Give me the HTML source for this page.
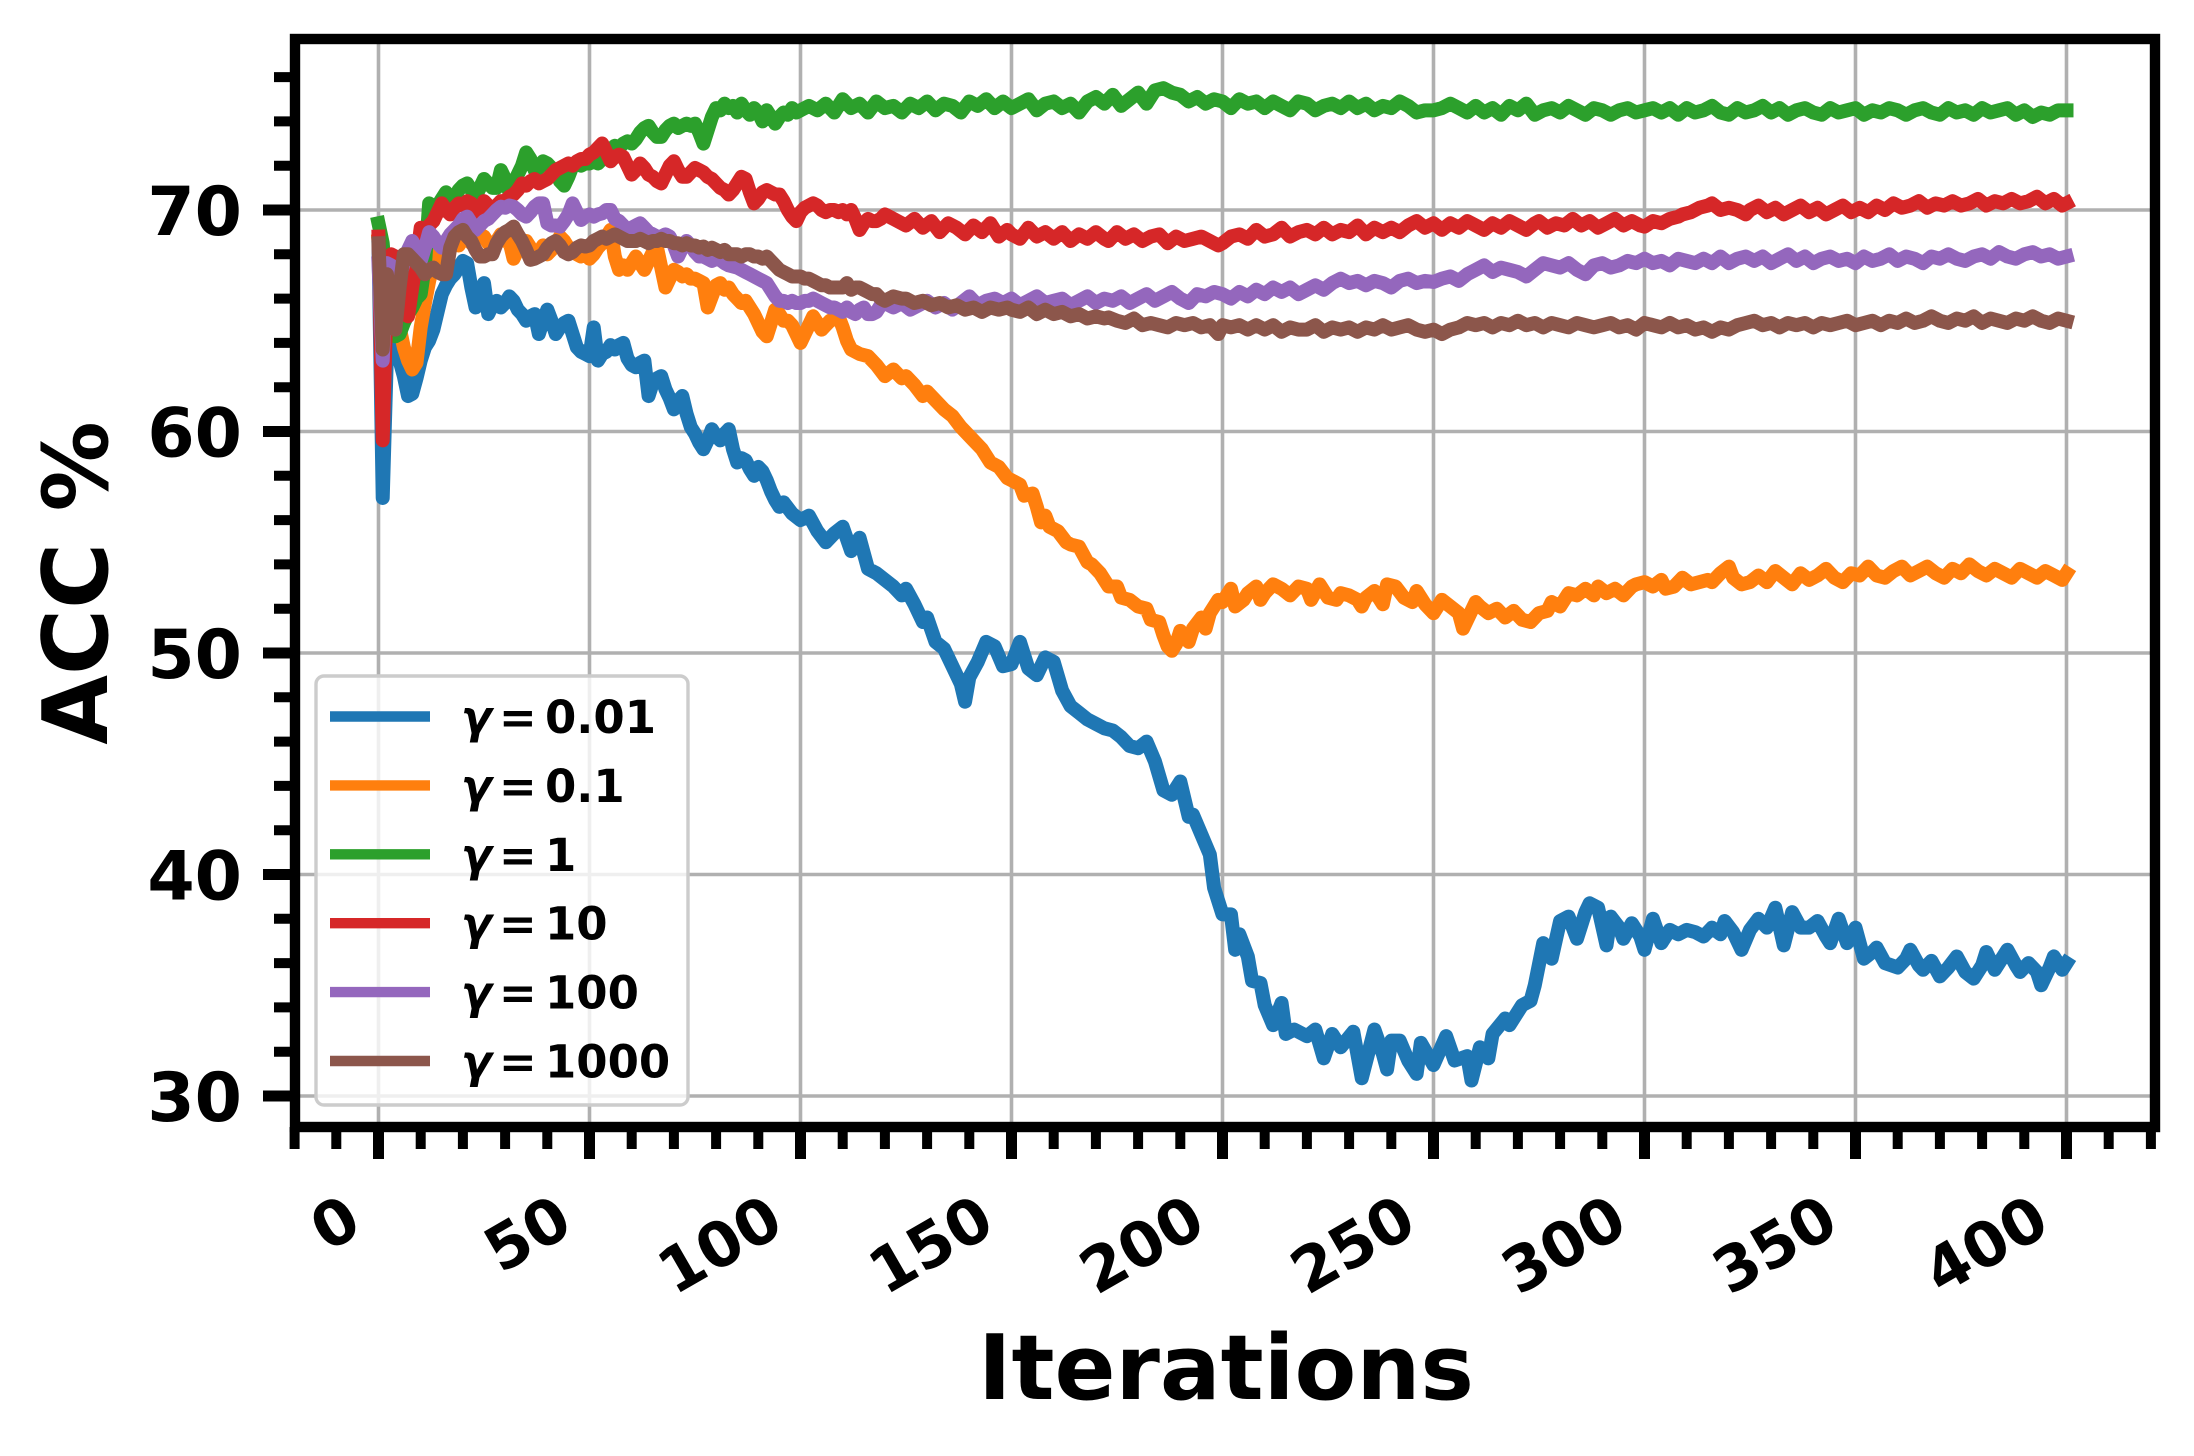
<!DOCTYPE html>
<html><head><meta charset="utf-8"><style>
html,body{margin:0;padding:0;background:#fff;}
svg{display:block;}
text{font-family:"DejaVu Sans","Liberation Sans",sans-serif;font-weight:bold;fill:#000;}
.s{fill:none;stroke-width:14;stroke-linejoin:round;stroke-linecap:square;vector-effect:non-scaling-stroke;}
</style></head><body>
<svg width="2194" height="1456" viewBox="0 0 2194 1456" xmlns="http://www.w3.org/2000/svg">
<defs><clipPath id="ax"><rect x="294" y="39" width="1861" height="1088"/></clipPath></defs>
<rect x="0" y="0" width="2194" height="1456" fill="#fff"/>
<g stroke="#b0b0b0" stroke-width="3.6">
<line x1="378.5" y1="39" x2="378.5" y2="1127"/><line x1="589.5" y1="39" x2="589.5" y2="1127"/><line x1="800.5" y1="39" x2="800.5" y2="1127"/><line x1="1011.5" y1="39" x2="1011.5" y2="1127"/><line x1="1222.5" y1="39" x2="1222.5" y2="1127"/><line x1="1433.5" y1="39" x2="1433.5" y2="1127"/><line x1="1644.5" y1="39" x2="1644.5" y2="1127"/><line x1="1855.5" y1="39" x2="1855.5" y2="1127"/><line x1="2066.5" y1="39" x2="2066.5" y2="1127"/>
<line x1="294" y1="210" x2="2155" y2="210"/><line x1="294" y1="431.5" x2="2155" y2="431.5"/><line x1="294" y1="653" x2="2155" y2="653"/><line x1="294" y1="874.5" x2="2155" y2="874.5"/><line x1="294" y1="1096" x2="2155" y2="1096"/>
</g>
<g clip-path="url(#ax)">
<g transform="translate(378.5,210) scale(4.22,-22.15) translate(0,-70)">
<polyline class="s" stroke="#1f77b4" points="0,68.3 1,57.0 2,63.5 3,64.2 4,64.1 5,63.2 6,62.5 7,61.6 8,61.7 9,62.4 10,63.2 11,63.8 12,64.1 13,64.6 14,65.4 15,66.2 16,66.6 17,66.9 18,67.1 19,67.4 20,67.7 21,67.6 22,66.5 23,65.6 24,66.2 25,66.7 26,65.3 27,65.7 28,65.9 29,65.6 30,65.8 31,66.1 32,65.9 33,65.5 34,65.3 35,65.0 36,65.2 37,65.3 38,64.4 39,65.0 40,65.5 41,65.0 42,64.4 43,64.7 44,64.9 45,65.0 46,64.4 47,63.8 48,63.6 49,63.5 50,63.4 51,64.7 52,63.2 53,63.5 54,63.6 55,63.9 56,63.7 57,63.9 58,64.0 59,63.3 60,63.0 61,62.9 62,63.1 63,63.2 64,61.6 65,62.2 66,62.4 67,62.5 68,61.9 69,61.5 70,61.0 71,61.4 72,61.6 73,60.8 74,60.2 75,59.9 76,59.5 77,59.2 78,59.6 79,60.1 80,59.8 81,59.6 82,59.9 83,60.1 84,59.2 85,58.6 86,58.8 87,58.7 88,58.3 89,58.0 90,58.4 91,58.2 92,57.8 93,57.3 94,56.9 95,56.6 96,56.8 98,56.3 100,56.0 102,56.2 104,55.5 106,55.0 108,55.4 110,55.7 112,54.6 114,55.2 116,53.8 118,53.6 120,53.3 122,53.0 124,52.6 125,52.9 127,52.2 129,51.4 130,51.6 132,50.5 134,50.2 136,49.4 138,48.6 139,47.8 140,48.9 142,49.6 144,50.5 146,50.3 148,49.4 150,49.5 152,50.5 154,49.3 156,49.0 158,49.8 160,49.6 162,48.3 164,47.6 166,47.3 168,47.0 170,46.8 172,46.6 174,46.5 176,46.2 178,45.8 180,45.7 182,46.0 184,45.1 186,43.8 188,43.6 190,44.2 192,42.6 193,42.7 195,41.8 197,40.9 198,39.4 200,38.2 202,38.2 203,36.6 204,37.3 206,36.3 207,35.2 209,35.1 210,34.1 212,33.2 214,34.2 215,32.8 217,33.0 220,32.7 222,33.0 224,31.7 226,32.8 228,32.2 231,32.9 233,30.8 236,33.0 238,31.9 239,31.2 240,32.5 242,32.5 244,31.6 246,31.0 247,32.4 250,31.4 253,32.7 255,31.6 258,31.8 259,30.7 261,32.2 263,31.7 264,32.8 267,33.5 268,33.2 271,34.1 273,34.3 274,35.0 276,36.9 278,36.2 280,37.9 282,38.1 284,37.1 286,38.3 287,38.7 289,38.5 291,36.8 292,38.1 294,37.6 295,37.1 297,37.8 299,37.2 300,36.6 302,38.0 304,36.9 306,37.5 308,37.3 310,37.5 312,37.4 314,37.2 316,37.6 318,37.3 319,37.9 321,37.4 323,36.6 325,37.5 327,38.0 329,37.6 331,38.5 333,36.8 335,38.3 337,37.6 339,37.6 341,37.9 343,37.2 344,36.9 346,38.0 348,36.9 350,37.6 352,36.2 354,36.5 355,36.7 357,36.0 360,35.8 362,36.2 363,36.6 365,35.9 366,35.7 368,36.1 370,35.4 372,35.8 374,36.3 376,35.6 378,35.3 380,35.9 381,36.5 383,35.7 386,36.6 388,35.9 389,35.6 391,36.0 393,35.6 394,35.0 396,35.8 397,36.3 399,35.7 400,36.0"/>
<polyline class="s" stroke="#ff7f0e" points="0,68.6 1,66.3 2,65.5 3,66.0 4,65.2 5,64.7 6,63.8 7,63.2 8,62.8 9,63.1 10,64.7 11,65.8 12,66.8 13,67.6 14,68.0 15,68.3 16,68.2 17,68.5 18,68.6 19,68.4 20,68.7 21,68.8 22,68.5 23,68.7 24,68.9 25,68.8 26,68.5 27,68.4 28,68.6 29,68.9 30,68.6 31,68.6 32,67.8 33,68.2 34,68.6 35,68.6 36,68.3 37,68.0 38,68.1 39,68.4 40,68.0 41,68.2 42,68.5 43,68.8 44,68.6 45,68.3 46,68.2 47,68.0 48,67.9 49,68.1 50,67.8 51,68.0 52,68.3 53,68.5 54,68.8 55,69.1 56,67.9 57,67.3 58,67.5 59,67.3 60,67.6 61,67.9 62,67.6 63,67.3 64,67.7 65,68.1 66,68.3 67,67.4 68,66.5 69,66.9 70,67.3 71,67.2 72,67.0 73,67.1 74,66.9 75,66.9 76,66.8 77,66.7 78,65.6 79,66.1 80,66.6 81,66.7 82,66.4 83,66.5 84,66.2 85,66.0 86,65.8 87,65.9 88,65.6 89,65.3 90,64.9 91,64.5 92,64.3 93,64.9 94,65.5 95,65.3 96,65.0 97,65.0 98,64.8 99,64.4 100,64.0 101,64.4 102,64.8 103,65.2 104,64.9 105,64.6 106,64.8 107,65.0 108,65.1 109,65.2 110,64.7 111,64.1 112,63.7 114,63.5 116,63.4 118,63.0 120,62.5 122,62.8 124,62.4 125,62.5 127,62.1 129,61.6 130,61.8 132,61.4 134,61.0 136,60.7 138,60.2 139,60.0 141,59.6 143,59.2 144,58.9 145,58.6 147,58.4 149,57.9 150,57.8 152,57.6 153,57.1 155,57.2 156,56.6 157,55.9 158,56.2 159,55.7 161,55.5 163,55.0 164,54.9 166,54.8 168,54.1 169,54.0 171,53.6 173,53.0 175,53.0 176,52.5 178,52.4 180,52.1 182,52.0 183,51.5 185,51.4 186,50.8 187,50.3 188,50.1 189,50.4 190,51.0 191,50.7 192,50.5 193,51.1 195,51.6 196,51.1 197,51.8 198,52.1 199,52.4 200,52.3 201,52.6 202,52.9 203,52.1 205,52.4 206,52.7 208,53.0 209,52.4 210,52.7 212,53.1 214,52.9 216,52.6 218,53.0 220,52.9 221,52.4 223,53.1 225,52.5 227,52.4 228,52.7 230,52.6 232,52.4 233,52.1 234,52.5 236,52.8 238,52.2 239,53.1 241,53.0 243,52.5 245,52.3 246,52.8 248,52.2 250,51.8 251,52.1 252,52.4 254,52.1 256,51.8 257,51.1 258,51.5 260,52.3 261,52.1 263,51.8 265,52.0 267,51.6 269,51.9 271,51.5 273,51.4 275,51.8 277,51.9 278,52.3 280,52.1 282,52.7 284,52.6 286,52.9 288,52.6 289,53.0 291,52.7 293,52.9 295,52.6 297,53.0 298,53.1 300,53.2 302,53.0 304,53.3 305,52.9 307,53.0 309,53.4 311,53.1 313,53.2 315,53.3 316,53.2 318,53.6 320,53.9 321,53.4 323,53.1 325,53.2 327,53.5 329,53.2 331,53.7 333,53.4 335,53.1 337,53.6 339,53.3 341,53.5 343,53.8 345,53.4 347,53.2 349,53.6 351,53.5 353,53.9 355,53.5 357,53.4 359,53.7 361,53.9 363,53.5 365,53.7 367,53.9 369,53.6 371,53.4 373,53.8 375,53.6 377,54.0 379,53.7 381,53.5 383,53.8 385,53.6 387,53.4 389,53.8 391,53.6 393,53.4 395,53.7 397,53.5 399,53.3 400,53.6"/>
<polyline class="s" stroke="#2ca02c" points="0,69.4 1,68.5 2,66.0 3,65.0 4,64.3 5,64.4 6,64.9 7,65.3 8,65.6 9,66.0 10,66.2 11,67.5 12,70.3 13,69.5 14,70.2 15,70.5 16,70.8 17,70.6 18,70.5 19,70.9 20,71.1 21,71.2 22,70.9 23,70.6 24,71.0 25,71.4 26,71.2 27,71.0 28,71.0 29,71.8 30,71.4 31,70.8 32,71.2 33,71.6 34,72.0 35,72.6 36,72.3 37,71.8 38,71.9 39,72.2 40,72.1 41,71.9 42,71.7 43,71.3 44,71.1 45,71.5 46,72.0 47,72.1 48,72.0 49,72.1 50,72.1 51,72.2 52,72.1 53,72.3 54,72.5 55,72.7 56,72.9 57,72.8 58,73.0 59,73.1 60,73.0 61,73.2 62,73.5 63,73.7 64,73.8 65,73.5 66,73.3 67,73.3 68,73.6 69,73.8 70,73.9 71,73.7 72,73.8 73,73.9 74,73.8 75,73.9 76,73.5 77,73.0 78,73.6 79,74.2 80,74.6 81,74.5 82,74.8 83,74.6 84,74.7 85,74.4 86,74.8 87,74.5 88,74.3 89,74.6 90,74.4 91,74.0 92,74.5 93,74.2 94,73.9 95,74.2 96,74.4 97,74.3 98,74.6 99,74.4 100,74.5 102,74.7 104,74.5 106,74.8 108,74.4 110,75.0 112,74.6 114,74.8 116,74.4 118,74.9 120,74.6 122,74.7 124,74.4 126,74.8 128,74.6 130,74.9 132,74.5 134,74.8 136,74.7 138,74.4 140,74.9 142,74.7 144,75.0 146,74.6 148,74.9 150,74.6 152,74.8 154,75.0 156,74.5 158,74.8 160,74.9 162,74.6 164,74.8 166,74.4 168,74.9 170,75.1 172,74.8 174,75.2 176,74.7 178,75.0 180,75.3 182,74.8 184,75.4 186,75.5 188,75.3 190,75.2 192,74.9 194,75.1 196,74.8 198,75.0 200,74.9 202,74.6 204,75.0 206,74.8 208,74.9 210,74.6 212,74.9 214,74.7 216,74.5 218,74.9 220,74.8 222,74.5 224,74.7 226,74.8 228,74.6 230,74.9 232,74.6 234,74.8 236,74.5 238,74.7 240,74.6 242,74.9 244,74.7 246,74.4 248,74.5 250,74.5 252,74.6 254,74.8 256,74.6 258,74.4 260,74.7 262,74.4 264,74.6 266,74.3 268,74.7 270,74.5 272,74.8 274,74.3 276,74.5 278,74.6 280,74.4 282,74.7 284,74.5 286,74.3 288,74.6 290,74.5 292,74.3 294,74.5 296,74.6 298,74.4 300,74.5 302,74.6 304,74.4 306,74.6 308,74.3 310,74.6 312,74.4 314,74.5 316,74.7 318,74.4 320,74.3 322,74.6 324,74.4 326,74.5 328,74.7 330,74.4 332,74.6 334,74.3 336,74.5 338,74.6 340,74.4 342,74.3 344,74.6 346,74.4 348,74.5 350,74.6 352,74.3 354,74.5 356,74.4 358,74.6 360,74.5 362,74.3 364,74.5 366,74.6 368,74.4 370,74.3 372,74.6 374,74.4 376,74.5 378,74.3 380,74.6 382,74.4 384,74.5 386,74.6 388,74.3 390,74.5 392,74.2 394,74.4 396,74.3 398,74.5 400,74.5"/>
<polyline class="s" stroke="#d62728" points="0,68.8 1,59.6 2,66.5 3,68.0 4,67.9 5,67.7 6,66.0 7,65.2 8,66.5 9,67.7 10,69.2 11,68.9 12,69.3 13,69.5 14,69.9 15,70.3 16,70.0 17,69.8 18,70.1 19,70.3 20,70.2 21,70.4 22,70.3 23,70.0 24,69.8 25,70.4 26,70.2 27,70.0 28,70.2 29,70.4 30,70.4 31,70.6 32,70.7 33,70.9 34,71.2 35,71.1 36,71.3 37,71.4 38,71.2 39,71.3 40,71.4 41,71.6 42,71.8 43,71.9 44,72.0 45,72.1 46,72.0 47,72.2 48,72.3 49,72.3 50,72.5 51,72.6 52,72.8 53,73.0 54,72.6 55,72.2 56,72.4 57,72.5 58,72.4 59,72.0 60,71.6 61,71.8 62,72.1 63,71.9 64,71.6 65,71.5 66,71.3 67,71.2 68,71.6 69,72.0 70,72.2 71,71.8 72,71.5 73,71.5 74,71.7 75,71.9 76,71.8 77,71.7 78,71.5 79,71.4 80,71.2 81,71.0 82,70.9 83,70.7 84,70.9 85,71.2 86,71.5 87,71.4 88,70.8 89,70.3 90,70.5 91,70.8 92,70.9 93,70.8 94,70.7 95,70.7 96,70.4 97,70.0 98,69.7 99,69.5 100,69.9 101,70.1 102,70.2 103,70.3 104,70.2 105,70.0 106,69.9 107,70.0 108,70.0 109,69.9 110,70.0 111,69.8 112,70.0 113,69.6 114,69.1 115,69.4 116,69.6 117,69.5 118,69.5 119,69.6 120,69.8 122,69.6 124,69.4 125,69.3 127,69.6 129,69.2 131,69.5 133,69.0 135,69.4 137,69.2 139,68.9 141,69.3 143,69.0 145,69.4 147,68.8 149,69.1 150,68.9 152,68.7 154,69.2 156,68.8 158,69.0 160,68.7 162,69.0 164,68.6 166,68.9 168,68.7 170,69.0 172,68.7 173,68.6 175,69.0 177,68.7 179,68.9 181,68.6 183,68.8 185,68.9 187,68.5 189,68.8 191,68.6 193,68.7 195,68.8 197,68.6 199,68.4 200,68.5 202,68.8 204,68.9 206,68.7 208,69.1 210,68.8 212,68.9 214,69.2 216,68.8 218,69.0 220,69.1 222,68.9 224,69.2 226,68.9 228,69.1 230,69.0 232,69.3 234,68.9 236,69.2 238,69.0 240,69.2 242,69.0 244,69.3 246,69.5 248,69.2 250,69.4 252,69.1 254,69.4 256,69.2 258,69.5 260,69.3 262,69.1 264,69.4 266,69.2 268,69.5 270,69.3 272,69.1 274,69.4 275,69.5 277,69.2 279,69.4 281,69.3 283,69.6 285,69.3 287,69.5 289,69.2 291,69.4 293,69.6 295,69.3 297,69.5 299,69.3 300,69.25 302,69.5 304,69.4 306,69.6 308,69.7 309,69.8 311,69.9 313,70.1 315,70.2 316,70.3 318,70.0 320,70.1 322,70.0 324,69.8 325,70.0 327,70.2 329,69.9 331,70.1 333,69.8 335,70.0 337,70.2 339,69.9 341,70.1 343,69.8 345,70.0 347,70.2 349,69.9 351,70.1 353,69.9 355,70.2 357,70.0 359,70.3 361,70.1 363,70.2 365,70.4 367,70.1 369,70.3 371,70.2 373,70.4 375,70.2 377,70.3 379,70.5 381,70.2 383,70.4 385,70.3 387,70.5 389,70.3 391,70.4 393,70.6 395,70.3 397,70.5 399,70.2 400,70.3"/>
<polyline class="s" stroke="#9467bd" points="0,67.6 1,63.2 2,67.6 3,67.5 4,67.3 5,67.0 6,67.6 7,68.2 8,68.6 9,68.2 10,67.7 11,68.3 12,69.0 13,68.8 14,68.5 15,68.3 16,68.6 17,68.9 18,69.1 19,69.3 20,69.6 21,69.7 22,69.4 23,69.1 24,69.3 25,69.5 26,69.6 27,69.8 28,70.0 29,70.15 30,70.1 31,70.2 32,70.15 33,70.0 34,69.8 35,69.7 36,69.9 37,70.15 38,70.3 39,70.3 40,69.4 41,69.3 42,69.3 43,69.25 44,69.5 45,69.8 46,70.3 47,69.9 48,69.55 49,69.7 50,69.8 51,69.7 52,69.8 53,69.85 54,70.0 55,70.0 56,69.6 57,69.5 58,69.3 59,69.1 60,69.2 61,69.3 62,69.4 63,69.2 64,69.0 65,68.9 66,68.8 67,68.8 68,68.9 69,68.8 70,68.4 71,67.9 72,68.3 73,68.6 74,68.4 75,68.1 76,67.9 77,67.9 78,67.8 79,67.7 80,67.8 81,67.75 82,67.6 83,67.5 84,67.45 85,67.4 86,67.3 87,67.2 88,67.1 89,67.0 90,66.9 91,66.8 92,66.7 93,66.4 94,66.1 95,65.9 96,65.9 97,65.8 98,65.9 99,65.8 100,65.8 101,65.9 102,65.9 103,66.0 104,65.9 105,65.8 106,65.7 107,65.6 108,65.6 109,65.5 110,65.4 111,65.6 112,65.4 113,65.3 114,65.5 115,65.6 116,65.3 117,65.3 118,65.4 119,65.7 120,65.8 122,65.6 124,65.8 126,65.5 128,65.7 130,65.9 132,65.6 134,65.8 136,65.5 138,65.8 140,66.1 142,65.7 144,65.9 146,66.0 148,65.8 150,66.0 152,65.7 154,65.9 156,66.1 158,65.8 160,65.9 162,66.0 164,65.7 166,65.9 168,66.1 170,65.8 172,66.0 174,65.9 176,66.1 178,65.8 180,66.0 182,66.2 184,65.9 186,66.1 188,66.3 190,66.0 192,65.8 194,66.2 196,66.1 198,66.3 200,66.2 202,66.0 204,66.3 206,66.1 208,66.4 210,66.2 212,66.5 214,66.3 216,66.5 218,66.2 220,66.4 222,66.6 224,66.4 226,66.7 228,66.9 230,66.7 232,66.8 234,66.6 236,66.8 238,66.7 240,66.5 242,66.8 244,66.9 246,66.7 248,66.8 250,66.75 252,66.9 254,67.0 256,66.8 258,67.1 260,67.3 262,67.5 264,67.2 266,67.4 268,67.3 270,67.2 272,67.0 274,67.3 276,67.6 278,67.5 280,67.4 282,67.6 284,67.3 286,67.1 288,67.5 290,67.6 292,67.4 294,67.5 296,67.7 298,67.6 300,67.8 302,67.6 304,67.7 306,67.5 308,67.8 310,67.7 312,67.6 314,67.8 316,67.6 318,67.9 320,67.6 322,67.8 324,67.9 326,67.7 328,67.9 330,67.6 332,67.8 334,68.0 336,67.7 338,67.9 340,67.6 342,67.8 344,67.9 346,67.7 348,67.8 350,67.6 352,67.9 354,67.7 356,67.8 358,68.0 360,67.7 362,67.9 364,67.8 366,67.6 368,67.9 370,67.8 372,68.0 374,67.8 376,67.7 378,67.9 380,68.0 382,67.8 384,68.1 386,67.9 388,67.8 390,68.0 392,68.1 394,67.9 396,68.0 398,67.8 400,67.9"/>
<polyline class="s" stroke="#8c564b" points="0,68.5 1,63.7 2,67.1 3,64.9 4,64.6 5,66.5 6,68.0 7,68.0 8,67.8 9,67.6 10,67.4 11,67.1 12,67.3 13,67.4 14,67.2 15,67.1 16,67.1 17,68.3 18,68.8 19,69.0 20,69.1 21,68.8 22,68.6 23,68.2 24,67.9 25,67.9 26,68.0 27,68.0 28,68.5 29,68.8 30,69.0 31,69.1 32,69.25 33,68.9 34,68.6 35,68.2 36,67.75 37,67.8 38,67.9 39,68.0 40,68.3 41,68.5 42,68.6 43,68.4 44,68.1 45,68.0 46,68.1 47,68.3 48,68.4 49,68.35 50,68.4 51,68.6 52,68.7 53,68.8 54,68.7 55,68.8 56,68.9 57,68.8 58,68.7 59,68.6 60,68.6 61,68.6 62,68.7 63,68.6 64,68.5 65,68.6 66,68.6 67,68.7 68,68.6 69,68.6 70,68.5 71,68.5 72,68.4 73,68.5 74,68.4 75,68.4 76,68.3 77,68.35 78,68.2 79,68.3 80,68.2 81,68.1 82,68.2 83,68.0 84,68.0 85,68.0 86,67.9 87,68.0 88,68.0 89,67.9 90,67.9 91,67.8 92,67.9 93,67.7 94,67.5 95,67.3 96,67.2 97,67.1 98,67.0 99,67.0 100,67.0 101,66.9 102,66.9 103,66.8 104,66.7 105,66.6 106,66.6 107,66.5 108,66.5 109,66.5 110,66.5 111,66.7 112,66.4 113,66.5 114,66.5 115,66.4 116,66.3 117,66.2 118,66.2 119,66.0 120,65.9 122,66.1 124,66.0 125,66.0 127,65.8 129,65.9 131,65.7 133,65.8 135,65.6 137,65.7 139,65.5 141,65.6 143,65.4 145,65.6 147,65.5 149,65.6 150,65.5 152,65.4 154,65.6 156,65.3 158,65.5 160,65.3 162,65.4 164,65.2 166,65.3 168,65.1 170,65.2 172,65.1 173,65.15 175,65.0 177,64.9 179,65.1 181,64.8 183,64.9 185,64.8 187,64.7 189,64.9 191,64.8 193,64.9 195,64.7 197,64.8 199,64.4 200,64.8 202,64.7 204,64.8 206,64.6 208,64.8 210,64.6 212,64.8 214,64.5 216,64.7 218,64.6 220,64.6 222,64.8 224,64.5 226,64.7 228,64.6 230,64.7 232,64.5 234,64.7 236,64.6 238,64.8 240,64.6 242,64.7 244,64.8 246,64.6 248,64.5 250,64.6 252,64.4 254,64.6 256,64.7 258,64.9 260,64.8 262,64.9 264,64.7 266,64.9 268,64.8 270,65.0 272,64.8 274,64.9 276,64.7 278,64.9 280,64.8 282,64.7 284,64.9 286,64.8 288,64.7 290,64.8 292,64.9 294,64.7 296,64.8 298,64.6 300,64.9 302,64.8 304,64.7 306,64.9 308,64.7 310,64.8 312,64.6 314,64.7 316,64.5 318,64.7 320,64.6 322,64.8 324,64.9 326,65.0 328,64.8 330,64.9 332,64.7 334,64.9 336,64.8 338,64.9 340,64.7 342,64.9 344,64.8 346,64.9 348,65.0 350,64.8 352,64.9 354,65.0 356,64.8 358,65.0 360,64.9 362,65.1 364,64.9 366,65.0 368,65.2 370,65.0 372,64.9 374,65.1 376,65.0 378,65.2 380,64.9 382,65.1 384,65.0 386,64.9 388,65.1 390,65.0 392,65.2 394,65.0 396,64.9 398,65.1 400,65.0"/>
</g>
</g>
<rect x="316" y="676" width="372" height="429" rx="8" ry="8" fill="#ffffff" fill-opacity="0.8" stroke="#cccccc" stroke-width="3.4"/>
<g stroke-width="10.4">
<line x1="330" y1="716.5" x2="430" y2="716.5" stroke="#1f77b4"/>
<line x1="330" y1="785.4" x2="430" y2="785.4" stroke="#ff7f0e"/>
<line x1="330" y1="854.3" x2="430" y2="854.3" stroke="#2ca02c"/>
<line x1="330" y1="923.2" x2="430" y2="923.2" stroke="#d62728"/>
<line x1="330" y1="992.1" x2="430" y2="992.1" stroke="#9467bd"/>
<line x1="330" y1="1061" x2="430" y2="1061" stroke="#8c564b"/>
</g>
<g font-size="45">
<text x="461" y="733"><tspan font-style="italic">γ</tspan></text><text x="499" y="733">=</text><text x="545" y="733">0.01</text>
<text x="461" y="801.9"><tspan font-style="italic">γ</tspan></text><text x="499" y="801.9">=</text><text x="545" y="801.9">0.1</text>
<text x="461" y="870.8"><tspan font-style="italic">γ</tspan></text><text x="499" y="870.8">=</text><text x="545" y="870.8">1</text>
<text x="461" y="939.7"><tspan font-style="italic">γ</tspan></text><text x="499" y="939.7">=</text><text x="545" y="939.7">10</text>
<text x="461" y="1008.6"><tspan font-style="italic">γ</tspan></text><text x="499" y="1008.6">=</text><text x="545" y="1008.6">100</text>
<text x="461" y="1077.5"><tspan font-style="italic">γ</tspan></text><text x="499" y="1077.5">=</text><text x="545" y="1077.5">1000</text>
</g>
<g stroke="#000" stroke-width="11">
<line x1="263" y1="210" x2="295" y2="210"/><line x1="263" y1="431.5" x2="295" y2="431.5"/><line x1="263" y1="653" x2="295" y2="653"/><line x1="263" y1="874.5" x2="295" y2="874.5"/><line x1="263" y1="1096" x2="295" y2="1096"/>
<line x1="378.5" y1="1127" x2="378.5" y2="1159"/><line x1="589.5" y1="1127" x2="589.5" y2="1159"/><line x1="800.5" y1="1127" x2="800.5" y2="1159"/><line x1="1011.5" y1="1127" x2="1011.5" y2="1159"/><line x1="1222.5" y1="1127" x2="1222.5" y2="1159"/><line x1="1433.5" y1="1127" x2="1433.5" y2="1159"/><line x1="1644.5" y1="1127" x2="1644.5" y2="1159"/><line x1="1855.5" y1="1127" x2="1855.5" y2="1159"/><line x1="2066.5" y1="1127" x2="2066.5" y2="1159"/>
</g>
<g stroke="#000" stroke-width="10">
<line x1="274" y1="1051.7" x2="295" y2="1051.7"/><line x1="274" y1="1007.4" x2="295" y2="1007.4"/><line x1="274" y1="963.1" x2="295" y2="963.1"/><line x1="274" y1="918.8" x2="295" y2="918.8"/><line x1="274" y1="830.2" x2="295" y2="830.2"/><line x1="274" y1="785.9" x2="295" y2="785.9"/><line x1="274" y1="741.6" x2="295" y2="741.6"/><line x1="274" y1="697.3" x2="295" y2="697.3"/><line x1="274" y1="608.7" x2="295" y2="608.7"/><line x1="274" y1="564.4" x2="295" y2="564.4"/><line x1="274" y1="520.1" x2="295" y2="520.1"/><line x1="274" y1="475.8" x2="295" y2="475.8"/><line x1="274" y1="387.2" x2="295" y2="387.2"/><line x1="274" y1="342.9" x2="295" y2="342.9"/><line x1="274" y1="298.6" x2="295" y2="298.6"/><line x1="274" y1="254.3" x2="295" y2="254.3"/><line x1="274" y1="165.7" x2="295" y2="165.7"/><line x1="274" y1="121.4" x2="295" y2="121.4"/><line x1="274" y1="77.1" x2="295" y2="77.1"/>
<line x1="294.6" y1="1127" x2="294.6" y2="1149"/><line x1="336.3" y1="1127" x2="336.3" y2="1149"/><line x1="420.7" y1="1127" x2="420.7" y2="1149"/><line x1="462.9" y1="1127" x2="462.9" y2="1149"/><line x1="505.1" y1="1127" x2="505.1" y2="1149"/><line x1="547.3" y1="1127" x2="547.3" y2="1149"/><line x1="631.7" y1="1127" x2="631.7" y2="1149"/><line x1="673.9" y1="1127" x2="673.9" y2="1149"/><line x1="716.1" y1="1127" x2="716.1" y2="1149"/><line x1="758.3" y1="1127" x2="758.3" y2="1149"/><line x1="842.7" y1="1127" x2="842.7" y2="1149"/><line x1="884.9" y1="1127" x2="884.9" y2="1149"/><line x1="927.1" y1="1127" x2="927.1" y2="1149"/><line x1="969.3" y1="1127" x2="969.3" y2="1149"/><line x1="1053.7" y1="1127" x2="1053.7" y2="1149"/><line x1="1095.9" y1="1127" x2="1095.9" y2="1149"/><line x1="1138.1" y1="1127" x2="1138.1" y2="1149"/><line x1="1180.3" y1="1127" x2="1180.3" y2="1149"/><line x1="1264.7" y1="1127" x2="1264.7" y2="1149"/><line x1="1306.9" y1="1127" x2="1306.9" y2="1149"/><line x1="1349.1" y1="1127" x2="1349.1" y2="1149"/><line x1="1391.3" y1="1127" x2="1391.3" y2="1149"/><line x1="1475.7" y1="1127" x2="1475.7" y2="1149"/><line x1="1517.9" y1="1127" x2="1517.9" y2="1149"/><line x1="1560.1" y1="1127" x2="1560.1" y2="1149"/><line x1="1602.3" y1="1127" x2="1602.3" y2="1149"/><line x1="1686.7" y1="1127" x2="1686.7" y2="1149"/><line x1="1728.9" y1="1127" x2="1728.9" y2="1149"/><line x1="1771.1" y1="1127" x2="1771.1" y2="1149"/><line x1="1813.3" y1="1127" x2="1813.3" y2="1149"/><line x1="1897.7" y1="1127" x2="1897.7" y2="1149"/><line x1="1939.9" y1="1127" x2="1939.9" y2="1149"/><line x1="1982.1" y1="1127" x2="1982.1" y2="1149"/><line x1="2024.3" y1="1127" x2="2024.3" y2="1149"/><line x1="2108.7" y1="1127" x2="2108.7" y2="1149"/><line x1="2150.9" y1="1127" x2="2150.9" y2="1149"/>
</g>
<rect x="295" y="39" width="1860" height="1088" fill="none" stroke="#000" stroke-width="10.4"/>
<g font-size="68" text-anchor="end">
<text x="242" y="235">70</text>
<text x="242" y="456.5">60</text>
<text x="242" y="678">50</text>
<text x="242" y="899.5">40</text>
<text x="242" y="1121">30</text>
</g>
<g font-size="62" text-anchor="end">
<text x="364.5" y="1231" transform="rotate(-30 364.5 1231)">0</text>
<text x="575.5" y="1231" transform="rotate(-30 575.5 1231)">50</text>
<text x="786.5" y="1231" transform="rotate(-30 786.5 1231)">100</text>
<text x="997.5" y="1231" transform="rotate(-30 997.5 1231)">150</text>
<text x="1208.5" y="1231" transform="rotate(-30 1208.5 1231)">200</text>
<text x="1419.5" y="1231" transform="rotate(-30 1419.5 1231)">250</text>
<text x="1630.5" y="1231" transform="rotate(-30 1630.5 1231)">300</text>
<text x="1841.5" y="1231" transform="rotate(-30 1841.5 1231)">350</text>
<text x="2052.5" y="1231" transform="rotate(-30 2052.5 1231)">400</text>
</g>
<text x="1226" y="1399" font-size="90" text-anchor="middle">Iterations</text>
<text x="107" y="583" font-size="90" text-anchor="middle" transform="rotate(-90 107 583)">ACC %</text>
</svg>
</body></html>
